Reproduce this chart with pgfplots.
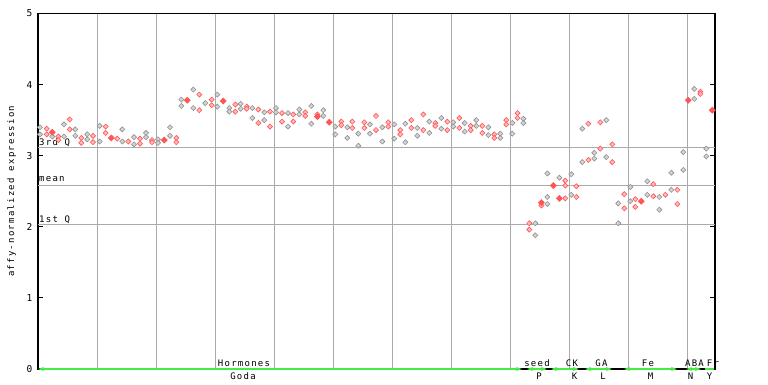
\documentclass[border=0pt]{standalone}
\usepackage{fontspec}
\setmainfont{DejaVu Sans Mono}[LetterSpace=14]
\usepackage{pgfplots}
\pgfplotsset{compat=1.18}
\usetikzlibrary{arrows.meta}
\definecolor{ptred}{RGB}{255,85,85}
\definecolor{ptredfill}{RGB}{255,185,185}
\definecolor{ptgrey}{RGB}{145,145,145}
\definecolor{ptgreyfill}{RGB}{212,212,212}
\definecolor{gridgrey}{RGB}{170,170,170}
\definecolor{arrowgreen}{RGB}{70,235,70}
\tikzset{garrow/.style={arrowgreen, line width=1.6pt, {Stealth[length=6pt,width=4pt]}-{Stealth[length=6pt,width=4pt]}}}

\pgfplotstableread{
x y
40 3.40
40 3.30
52.3 3.27
64 3.44
64 3.27
75.3 3.37
75.3 3.28
87.3 3.30
87.3 3.23
99.7 3.42
99.7 3.20
122.3 3.37
122.3 3.20
134 3.26
134 3.16
146 3.32
146 3.26
158 3.23
158 3.18
170 3.40
170 3.28
181.3 3.79
181.3 3.70
193.3 3.93
193.3 3.67
205.3 3.74
217.3 3.86
217.3 3.69
229.3 3.67
229.3 3.62
240.7 3.73
240.7 3.66
252.3 3.67
252.3 3.53
264.3 3.61
264.3 3.50
276 3.67
276 3.61
288 3.60
288 3.41
299.3 3.65
299.3 3.58
311.3 3.70
311.3 3.45
323.3 3.64
323.3 3.56
335.3 3.41
335.3 3.30
347.3 3.40
347.3 3.25
358.3 3.31
358.3 3.14
370 3.44
370 3.31
382.3 3.40
382.3 3.20
394.3 3.44
394.3 3.24
405.3 3.45
405.3 3.19
417.3 3.39
417.3 3.28
429.3 3.48
429.3 3.32
441.3 3.53
441.3 3.38
453.3 3.47
453.3 3.41
464.7 3.46
464.7 3.34
476.3 3.50
476.3 3.42
488.3 3.40
488.3 3.29
500.3 3.31
500.3 3.25
512.3 3.46
512.3 3.31
523.3 3.52
523.3 3.46
535.3 2.05
535.3 1.88
547.3 2.75
547.3 2.42
547.3 2.32
559.3 2.69
571.3 2.74
571.3 2.45
582.3 3.38
582.3 2.91
594.3 3.04
594.3 2.96
606.3 3.50
606.3 2.98
618.3 2.33
618.3 2.05
630.3 2.56
630.3 2.36
647.3 2.64
647.3 2.45
659.3 2.42
659.3 2.24
671.3 2.76
671.3 2.52
683.3 3.05
683.3 2.80
694.3 3.94
694.3 3.80
706.3 3.10
706.3 2.99
}\greypts

\pgfplotstableread{
x y
46.7 3.38
46.7 3.30
58.3 3.27
58.3 3.22
69.7 3.51
69.7 3.37
81.3 3.25
81.3 3.18
93 3.28
93 3.19
105.7 3.41
105.7 3.32
117.3 3.24
128.3 3.20
140 3.24
140 3.17
152 3.22
152 3.19
176.3 3.25
176.3 3.19
199.3 3.86
199.3 3.64
211.7 3.79
211.7 3.71
235.3 3.72
235.3 3.62
246.7 3.69
246.7 3.66
258.3 3.65
258.3 3.46
270 3.62
270 3.41
282 3.60
282 3.48
293.3 3.58
293.3 3.48
305.3 3.61
305.3 3.56
317.3 3.58
341.3 3.48
341.3 3.43
352.3 3.48
352.3 3.39
364.3 3.47
364.3 3.39
376 3.56
376 3.36
388.3 3.47
388.3 3.41
400.3 3.36
400.3 3.30
411.3 3.50
411.3 3.39
423.3 3.58
423.3 3.36
435.3 3.46
435.3 3.42
447.3 3.48
447.3 3.36
459.3 3.53
459.3 3.39
470.7 3.42
470.7 3.36
482.3 3.42
482.3 3.32
494.3 3.30
494.3 3.25
506.3 3.50
506.3 3.44
517.5 3.60
517.5 3.53
529.3 2.05
529.3 1.96
541.3 2.30
565.3 2.65
565.3 2.58
565.3 2.40
576.3 2.57
576.3 2.42
588.3 3.45
588.3 2.94
600.3 3.47
600.3 3.10
612.3 3.16
612.3 2.91
624.3 2.46
624.3 2.26
635.3 2.39
635.3 2.28
653.3 2.60
653.3 2.43
665.3 2.45
677.3 2.52
677.3 2.32
700.3 3.90
700.3 3.87
}\redpts

\pgfplotstableread{
x y
52.3 3.33
111.3 3.25
164.3 3.22
187.3 3.78
223.3 3.77
317.3 3.55
329.3 3.47
541.3 2.34
553.3 2.58
559.3 2.40
641.3 2.36
688.3 3.78
712.3 3.64
}\filledpts

\begin{document}
\begin{tikzpicture}[x=1pt,y=1pt]
\path[use as bounding box] (-38,-15) rectangle (730,369);
\begin{axis}[
  at={(0,0)}, anchor=south west,
  scale only axis, width=677pt, height=355.5pt,
  xmin=38, xmax=715, ymin=0, ymax=5,
  clip=false,
  axis line style={black, line width=1.3pt},
  xtick={97,156,...,687}, xticklabels={}, xmajorgrids,
  xtick style={draw=none},
  ytick={0,1,2,3,4,5},
  ytick pos=both, yticklabel pos=left,
  tick align=inside,
  major tick length=5pt,
  ytick style={black, line width=1pt},
  extra y ticks={2.038,2.587,3.11}, extra y tick labels={},
  extra y tick style={grid=major, tick style={draw=none}},
  grid style={gridgrey, line width=1pt},
  yticklabel style={font=\fontsize{9.5}{9.5}\selectfont, xshift=-2pt},
  /pgf/number format/assume math mode=true,
]
\addplot[only marks, mark=square*, mark size=1.8pt,
  mark options={rotate=45, draw=ptgrey, fill=ptgreyfill, line width=0.6pt}]
  table[x=x,y=y] {\greypts};
\addplot[only marks, mark=square*, mark size=1.8pt,
  mark options={rotate=45, draw=ptred, fill=ptredfill, line width=0.6pt}]
  table[x=x,y=y] {\redpts};
\addplot[only marks, mark=square*, mark size=2.2pt,
  mark options={rotate=45, draw=ptred, fill=ptred, line width=0.4pt}]
  table[x=x,y=y] {\filledpts};

\node[anchor=base west, inner sep=0pt, font=\fontsize{9}{9}\selectfont] at (axis cs:39,3.145) {3rd Q};
\node[anchor=base west, inner sep=0pt, font=\fontsize{9}{9}\selectfont] at (axis cs:39,2.635) {mean};
\node[anchor=base west, inner sep=0pt, font=\fontsize{9}{9}\selectfont] at (axis cs:39,2.065) {1st Q};

\draw[garrow] (axis cs:38,0) -- (axis cs:522,0);
\draw[garrow] (axis cs:527,0) -- (axis cs:547,0);
\draw[garrow] (axis cs:551,0) -- (axis cs:579,0);
\draw[garrow] (axis cs:585,0) -- (axis cs:612,0);
\draw[garrow] (axis cs:624,0) -- (axis cs:677,0);
\draw[garrow] (axis cs:686,0) -- (axis cs:701,0);
\draw[arrowgreen, line width=1.6pt] (axis cs:705,0) -- (axis cs:714,0);

\node[anchor=base, inner sep=0pt, font=\fontsize{9}{9}\selectfont] at (axis cs:244,0.042) {Hormones};
\node[anchor=base, inner sep=0pt, font=\fontsize{9}{9}\selectfont] at (axis cs:243,-0.145) {Goda};
\node[anchor=base, inner sep=0pt, font=\fontsize{9}{9}\selectfont] at (axis cs:537,0.042) {seed};
\node[anchor=base, inner sep=0pt, font=\fontsize{9}{9}\selectfont] at (axis cs:539,-0.145) {P};
\node[anchor=base, inner sep=0pt, font=\fontsize{9}{9}\selectfont] at (axis cs:572,0.042) {CK};
\node[anchor=base, inner sep=0pt, font=\fontsize{9}{9}\selectfont] at (axis cs:574.5,-0.145) {K};
\node[anchor=base, inner sep=0pt, font=\fontsize{9}{9}\selectfont] at (axis cs:601.5,0.042) {GA};
\node[anchor=base, inner sep=0pt, font=\fontsize{9}{9}\selectfont] at (axis cs:603,-0.145) {L};
\node[anchor=base, inner sep=0pt, font=\fontsize{9}{9}\selectfont] at (axis cs:648,0.042) {Fe};
\node[anchor=base, inner sep=0pt, font=\fontsize{9}{9}\selectfont] at (axis cs:650.5,-0.145) {M};
\node[anchor=base, inner sep=0pt, font=\fontsize{9}{9}\selectfont] at (axis cs:694.5,0.042) {ABA};
\node[anchor=base, inner sep=0pt, font=\fontsize{9}{9}\selectfont] at (axis cs:690.5,-0.145) {N};
\node[anchor=base, inner sep=0pt, font=\fontsize{9}{9}\selectfont] at (axis cs:713,0.042) {Fr};
\node[anchor=base, inner sep=0pt, font=\fontsize{9}{9}\selectfont] at (axis cs:709.5,-0.145) {Y};
\node[rotate=90, anchor=center, inner sep=0pt, font=\fontsize{9}{9}\selectfont] at (axis cs:11.5,2.5) {affy-normalized expression};
\end{axis}
\end{tikzpicture}
\end{document}
